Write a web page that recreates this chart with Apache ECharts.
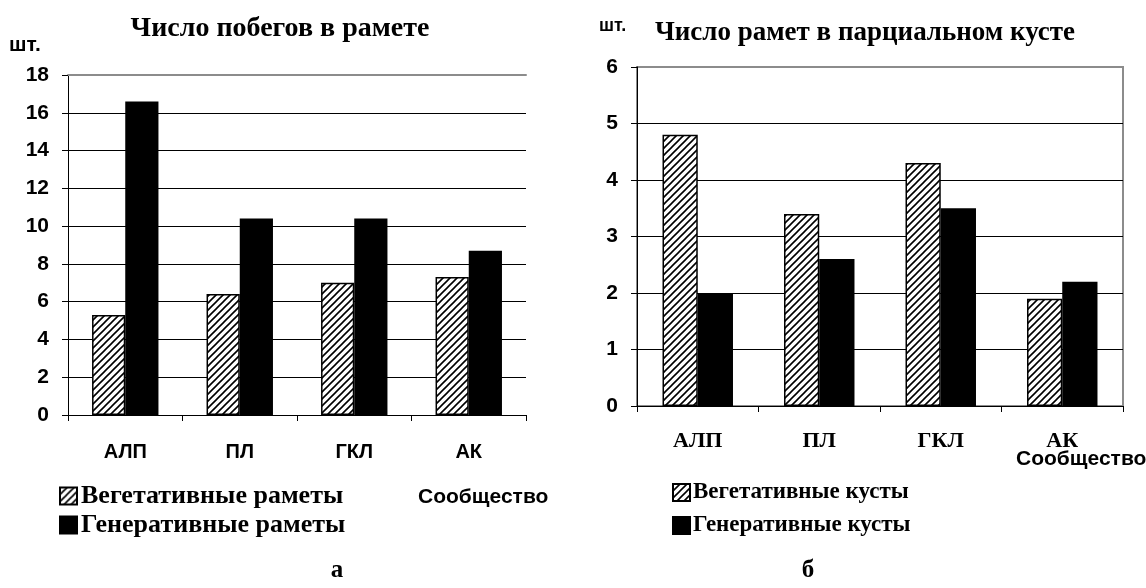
<!DOCTYPE html>
<html>
<head>
<meta charset="utf-8">
<script src="https://cdn.jsdelivr.net/npm/echarts@6/dist/echarts.min.js"></script>
<style>
html, body { margin: 0; padding: 0; background: #fff; }
#chart { width: 1146px; height: 588px; }
</style>
</head>
<body>
<div id="chart"></div>
<script>
// данные
var categories = ['АЛП', 'ПЛ', 'ГКЛ', 'АК'];
var shootsVeg = [5.3, 6.4, 7.0, 7.3];     // вегетативные раметы
var shootsGen = [16.6, 10.4, 10.4, 8.7];  // генеративные раметы
var bushVeg = [4.8, 3.4, 4.3, 1.9];       // вегетативные кусты
var bushGen = [2.0, 2.6, 3.5, 2.2];       // генеративные кусты
var leftTicks = [0, 18, 2];   // min, max, шаг
var rightTicks = [0, 6, 1];

var SERIF = 'Liberation Serif';
var SANS = 'Liberation Sans';

function hatch() {
	var c = document.createElement('canvas');
	c.width = c.height = 7;
	var g = c.getContext('2d');
	g.fillStyle = '#fff';
	g.fillRect(0, 0, 7, 7);
	g.strokeStyle = '#000';
	g.lineWidth = 1.6;
	g.beginPath();
	g.moveTo(-1, 8); g.lineTo(8, -1);
	g.moveTo(-2, 2); g.lineTo(2, -2);
	g.moveTo(5, 9); g.lineTo(9, 5);
	g.stroke();
	return c;
}
var hatchFill = { image: hatch(), repeat: 'repeat' };

function valueAxis(idx, ticks) {
	return {
		type: 'value', gridIndex: idx,
		min: ticks[0], max: ticks[1], interval: ticks[2],
		axisLine: { show: true, lineStyle: { color: '#000', width: 1 } },
		axisTick: { show: true, length: 6, lineStyle: { color: '#000' } },
		axisLabel: { margin: 19, color: '#000', fontFamily: SANS, fontWeight: 'bold', fontSize: 21 },
		splitLine: { show: true, showMaxLine: false, lineStyle: { color: '#000', width: 1 } }
	};
}

function catAxis(idx, font, size, margin) {
	return {
		type: 'category', gridIndex: idx, data: categories,
		axisLine: { lineStyle: { color: '#000', width: 1 } },
		axisTick: { show: true, length: 6, lineStyle: { color: '#000' } },
		axisLabel: { margin: margin, color: '#000', fontFamily: font, fontWeight: 'bold', fontSize: size }
	};
}

function bar(name, x, y, data, fill) {
	return {
		name: name, type: 'bar', xAxisIndex: x, yAxisIndex: y,
		data: data, barWidth: '29%', barGap: '0%',
		itemStyle: { color: fill, borderColor: '#000', borderWidth: 1.5 },
		emphasis: { disabled: true }
	};
}

function txt(x, y, s, font, size, align) {
	return {
		type: 'text', x: x, y: y,
		style: { text: s, fill: '#000', font: 'bold ' + size + 'px "' + font + '"',
			textAlign: align || 'left', textVerticalAlign: 'middle' }
	};
}

var legendText = { fontFamily: SERIF, fontWeight: 'bold', color: '#000' };

var option = {
	animation: false,
	grid: [
		{ left: 68, top: 75, width: 458, height: 340 },
		{ left: 637, top: 67, width: 486, height: 339, show: true, borderColor: '#8c8c8c', borderWidth: 2 }
	],
	xAxis: [
		catAxis(0, SANS, 20, 27),
		catAxis(1, SERIF, 22, 24),
		// серая верхняя рамка левого графика
		{ type: 'category', gridIndex: 0, position: 'top', data: categories,
			axisLine: { lineStyle: { color: '#8c8c8c', width: 2 } },
			axisTick: { show: false }, axisLabel: { show: false } }
	],
	yAxis: [valueAxis(0, leftTicks), valueAxis(1, rightTicks)],
	legend: [
		{ left: 54, top: 478, orient: 'vertical', icon: 'rect', itemWidth: 17, itemHeight: 17, itemGap: 3,
			textStyle: Object.assign({ fontSize: 26, padding: [0, 0, 0, -1] }, legendText),
			data: ['Вегетативные раметы', 'Генеративные раметы'] },
		{ left: 667, top: 476, orient: 'vertical', icon: 'rect', itemWidth: 17, itemHeight: 17, itemGap: 10,
			textStyle: Object.assign({ fontSize: 23, padding: [0, 0, 0, -2] }, legendText),
			data: ['Вегетативные кусты', 'Генеративные кусты'] }
	],
	series: [
		bar('Вегетативные раметы', 0, 0, shootsVeg, hatchFill),
		bar('Генеративные раметы', 0, 0, shootsGen, '#000'),
		bar('Вегетативные кусты', 1, 1, bushVeg, hatchFill),
		bar('Генеративные кусты', 1, 1, bushGen, '#000')
	],
	graphic: [
		txt(280, 29, 'Число побегов в рамете', SERIF, 28, 'center'),
		txt(865, 33, 'Число рамет в парциальном кусте', SERIF, 27, 'center'),
		txt(9, 45, 'шт.', SANS, 21),
		txt(599, 26, 'шт.', SANS, 18),
		txt(418, 497, 'Сообщество', SANS, 21),
		txt(1016, 459, 'Сообщество', SANS, 21),
		txt(337, 571, 'а', SERIF, 25, 'center'),
		txt(808, 571, 'б', SERIF, 25, 'center')
	]
};

var chart = echarts.init(document.getElementById('chart'));
chart.setOption(option);
</script>
</body>
</html>
